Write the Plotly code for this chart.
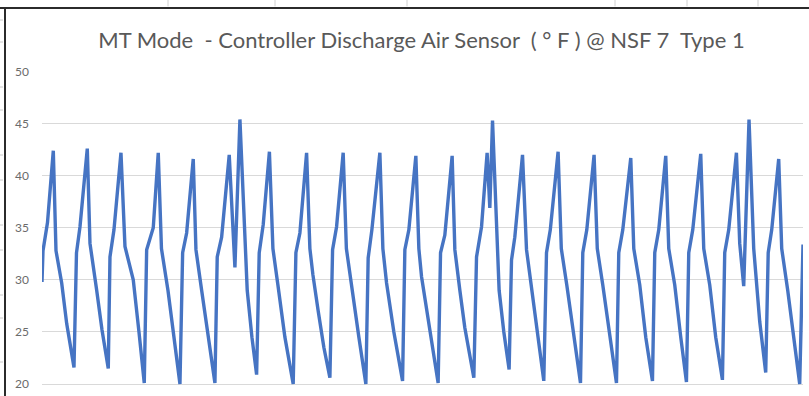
import plotly.graph_objects as go

# Elapsed time (minutes) and discharge air temperature (deg F)
minutes = [
    0, 1, 5.5, 11.3, 14, 19.7, 24.7, 32,
    34.5, 38, 45.3, 48, 54.7, 60, 66.3,
    68, 72, 79, 83, 91.3, 97, 102.3,
    104.7, 111.3, 116.3, 119.5, 126, 132, 138,
    140.7, 144.7, 151.3, 154, 159.7, 166, 173,
    175.3, 179.7, 187.3, 193, 198, 205.3, 210, 214.7,
    217.3, 221.3, 227.5, 231, 236, 243, 251.3,
    254, 258, 264.7, 268, 271, 276.3, 282, 288,
    290.7, 294.7, 301.3, 304.5, 310, 317, 324,
    326.3, 330, 338, 341, 344.7, 352, 360.7,
    363, 367, 374, 377, 379.7, 388, 396.3,
    398.7, 403, 410.3, 413, 418, 423, 432,
    434.7, 439.7, 445.3, 448, 450.7, 457.3, 462, 467.3,
    469.7, 473, 480.7, 484.7, 490, 496, 502,
    504.7, 508.5, 516.3, 519.5, 525, 532, 538.7,
    541, 545, 552.3, 555.5, 561, 568, 574.7,
    577, 581, 589, 592, 598, 604, 610.7,
    613, 617, 624, 627, 633, 639, 644.7,
    647, 651, 659, 662, 668, 674, 680.7,
    683, 687, 694.7, 698, 702, 707.3, 712, 718, 724,
    726.5, 730, 737, 740, 746, 752, 758,
    761.3,
]
temp_f = [
    29.8, 32.8, 35.5, 42.4, 32.8, 29.7, 25.8, 21.6,
    32.6, 35.1, 42.6, 33.5, 29.0, 25.2, 21.5,
    32.2, 34.8, 42.2, 33.2, 30.0, 25.0, 20.1,
    32.9, 35.0, 42.2, 33.0, 29.0, 24.5, 20.0,
    32.6, 34.5, 41.6, 32.9, 29.0, 24.5, 20.1,
    32.2, 34.1, 42.0, 31.2, 45.4, 29.0, 24.5, 20.9,
    32.6, 35.3, 42.3, 33.0, 29.5, 24.5, 20.0,
    32.6, 34.5, 42.2, 33.0, 30.5, 27.0, 23.5, 20.6,
    32.9, 35.1, 42.2, 33.0, 29.5, 24.5, 20.0,
    32.1, 34.8, 42.2, 33.0, 29.7, 25.0, 20.3,
    32.9, 34.8, 41.9, 33.0, 30.3, 25.0, 20.1,
    32.6, 34.3, 41.9, 32.9, 29.0, 25.4, 20.6,
    32.2, 35.1, 42.2, 36.9, 45.3, 29.0, 25.0, 21.4,
    31.9, 34.1, 42.0, 32.9, 29.0, 24.5, 20.3,
    32.6, 34.8, 42.3, 33.0, 29.5, 24.5, 20.1,
    32.6, 34.8, 42.0, 33.0, 29.5, 24.5, 20.1,
    32.6, 34.8, 41.7, 33.0, 29.5, 24.5, 20.3,
    32.6, 34.8, 41.9, 33.0, 29.5, 24.5, 20.2,
    32.6, 34.8, 42.1, 33.0, 29.5, 24.5, 20.4,
    32.6, 34.8, 42.2, 33.5, 29.4, 45.4, 33.0, 26.0, 21.1,
    32.6, 34.8, 41.6, 33.0, 29.0, 24.5, 20.0,
    33.4,
]

y_ticks = [20, 25, 30, 35, 40, 45, 50]
title_text = ("MT Mode\u00a0\u00a0- Controller Discharge Air Sensor\u00a0\u00a0"
              "( \u00b0 F ) @ NSF 7\u00a0\u00a0Type 1")

fig = go.Figure()
fig.add_trace(go.Scatter(
    x=minutes, y=temp_f, mode="lines",
    line=dict(color="#4674C3", width=3.4),
    hoverinfo="skip", showlegend=False,
))

fig.update_layout(
    width=809, height=396,
    margin=dict(l=42, r=6, t=71, b=0),
    paper_bgcolor="white", plot_bgcolor="white",
    title=dict(
        text=title_text, x=0.521, xanchor="center", y=0.898, yanchor="middle",
        font=dict(family="Lato, 'Open Sans', sans-serif", size=22, color="#595959"),
    ),
    xaxis=dict(
        range=[0, 761.3], showgrid=False, zeroline=False,
        showticklabels=False, showline=False, fixedrange=True,
    ),
    yaxis=dict(
        range=[18.85, 50.05], tickvals=y_ticks,
        ticktext=[str(v) for v in y_ticks],
        showgrid=True, gridcolor="#D9D9D9", gridwidth=1,
        zeroline=False, showline=False, ticks="",
        ticklabelstandoff=12,
        tickfont=dict(family="Lato, 'Open Sans', sans-serif", size=12, color="#6b6b6b"),
    ),
)

# Chart frame: dark top and left edges
frame_top = 1 + 63 / 325
fig.add_shape(type="line", xref="paper", yref="paper",
              x0=-42 / 761, x1=1.01, y0=frame_top, y1=frame_top,
              line=dict(color="#2b2b2b", width=2))
fig.add_shape(type="line", xref="paper", yref="paper",
              x0=-37 / 761, x1=-37 / 761, y0=-0.01, y1=frame_top,
              line=dict(color="#2b2b2b", width=2))

# Faint worksheet cell borders peeking out around the chart frame
for px in [168, 275, 407, 615, 687, 758]:
    xp = (px - 42) / 761
    fig.add_shape(type="line", xref="paper", yref="paper",
                  x0=xp, x1=xp, y0=frame_top + 0.005, y1=frame_top + 0.03,
                  line=dict(color="#d0d0d0", width=1))
for py in [20, 42, 87, 110, 155, 180, 225, 250, 295, 318, 362]:
    yp = 1 + (71 - py) / 325
    fig.add_shape(type="line", xref="paper", yref="paper",
                  x0=-42 / 761, x1=-39 / 761, y0=yp, y1=yp,
                  line=dict(color="#c8c8c8", width=1))

fig.write_html("out.html")
